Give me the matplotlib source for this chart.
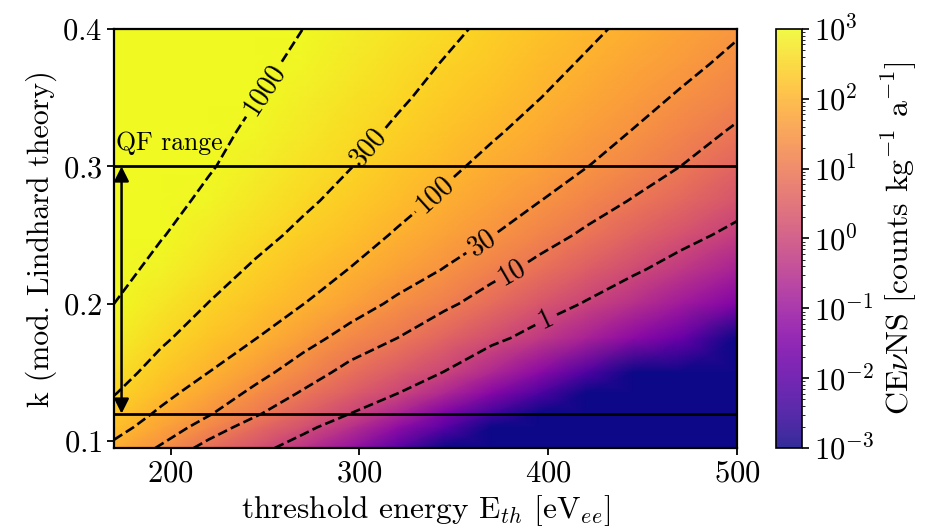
import numpy as np
import matplotlib
matplotlib.use("Agg")
import matplotlib.pyplot as plt
from matplotlib.colors import LogNorm

plt.rcParams["font.family"] = "serif"
plt.rcParams["font.serif"] = ["cmr10"]
plt.rcParams["mathtext.fontset"] = "cm"
plt.rcParams["axes.formatter.use_mathtext"] = True

# grid nodes: threshold energy [eV_ee] and k (mod. Lindhard)
e_th = np.array([170, 195, 220, 245, 270, 295, 320, 345, 370, 395, 420, 445, 470, 500])
k_vals = np.array([0.095, 0.11, 0.12, 0.135, 0.15, 0.175, 0.20, 0.225, 0.25, 0.275,
                   0.30, 0.325, 0.35, 0.375, 0.40])

# log10 of CEvNS rate, one row per k (-4 = no events)
log_rate = np.array([
    [1.88, 1.42, 0.81, 0.26, -0.38, -1.10, -2.00, -4.0, -4.0, -4.0, -4.0, -4.0, -4.0, -4.0],
    [2.18, 1.74, 1.28, 0.74, 0.20, -0.46, -1.20, -2.05, -4.0, -4.0, -4.0, -4.0, -4.0, -4.0],
    [2.32, 1.92, 1.52, 1.07, 0.54, 0.00, -0.70, -1.50, -2.40, -4.0, -4.0, -4.0, -4.0, -4.0],
    [2.50, 2.14, 1.77, 1.37, 0.95, 0.49, 0.02, -0.65, -1.35, -2.20, -4.0, -4.0, -4.0, -4.0],
    [2.64, 2.32, 2.00, 1.63, 1.25, 0.84, 0.41, -0.02, -0.65, -1.28, -2.20, -4.0, -4.0, -4.0],
    [2.84, 2.54, 2.27, 2.01, 1.65, 1.31, 1.00, 0.59, 0.18, -0.27, -0.77, -1.27, -1.80, -4.0],
    [3.00, 2.73, 2.47, 2.24, 2.01, 1.69, 1.39, 1.11, 0.75, 0.35, -0.05, -0.49, -0.93, -1.45],
    [3.13, 2.89, 2.65, 2.42, 2.20, 1.99, 1.72, 1.46, 1.17, 0.85, 0.48, 0.11, -0.29, -0.79],
    [3.23, 3.02, 2.81, 2.60, 2.39, 2.18, 1.96, 1.73, 1.49, 1.21, 0.92, 0.58, 0.24, -0.19],
    [3.31, 3.12, 2.93, 2.74, 2.55, 2.35, 2.14, 1.93, 1.71, 1.49, 1.23, 0.97, 0.66, 0.28],
    [3.39, 3.21, 3.03, 2.85, 2.67, 2.49, 2.29, 2.09, 1.89, 1.69, 1.49, 1.25, 1.00, 0.60],
    [3.44, 3.27, 3.10, 2.93, 2.77, 2.60, 2.42, 2.24, 2.05, 1.86, 1.66, 1.46, 1.24, 0.93],
    [3.50, 3.34, 3.17, 3.01, 2.85, 2.69, 2.53, 2.36, 2.19, 2.01, 1.82, 1.63, 1.43, 1.18],
    [3.54, 3.39, 3.23, 3.08, 2.93, 2.77, 2.62, 2.46, 2.30, 2.13, 1.96, 1.78, 1.60, 1.37],
    [3.58, 3.44, 3.29, 3.14, 3.00, 2.85, 2.70, 2.56, 2.40, 2.24, 2.08, 1.91, 1.74, 1.53],
])
rate = 10.0 ** log_rate

contour_levels = [1, 10, 30, 100, 300, 1000]
label_pos = [(399, 0.188), (381, 0.2225), (364, 0.2465), (341, 0.278), (305.6, 0.313), (248.5, 0.357)]
qf_bounds = [0.12, 0.3]

fig = plt.figure(figsize=(9.33, 5.32), dpi=100)
ax = fig.add_axes([0.1222, 0.1579, 0.6677, 0.7876])
cax = fig.add_axes([0.8317, 0.1579, 0.0279, 0.7876])

E, K = np.meshgrid(e_th, k_vals)
mesh = ax.pcolormesh(E, K, rate, cmap="plasma", norm=LogNorm(vmin=1e-3, vmax=1e3), shading="gouraud")

cs = ax.contour(E, K, log_rate, levels=np.log10(contour_levels), colors="k",
                linestyles="--", linewidths=1.9)
fmt = {lev: str(v) for lev, v in zip(cs.levels, contour_levels)}
ax.clabel(cs, fmt=fmt, fontsize=20, inline=True, manual=label_pos)

for kb in qf_bounds:
    ax.axhline(kb, color="k", lw=2)
ax.annotate("", xy=(174, qf_bounds[1]), xytext=(174, qf_bounds[0]),
            arrowprops=dict(arrowstyle="<|-|>", color="k", lw=1.8, mutation_scale=22,
                            shrinkA=0, shrinkB=0))
ax.text(171, 0.308, "QF range", fontsize=18.5, va="bottom", ha="left")

ax.set_xlim(170, 500)
ax.set_ylim(0.095, 0.4)
ax.set_xticks([200, 300, 400, 500])
ax.set_yticks([0.1, 0.2, 0.3, 0.4])
ax.set_xlabel(r"threshold energy $\mathrm{E}_{th}$ $[\mathrm{eV}_{ee}]$", fontsize=22.5)
ax.set_ylabel("k (mod. Lindhard theory)", fontsize=21.5)
ax.tick_params(labelsize=22, width=1.3, length=5)
for s in ax.spines.values():
    s.set_linewidth(1.6)

cbar = fig.colorbar(mesh, cax=cax)
cbar.solids.set_alpha(0.85)
cbar.set_label(r"CE$\nu$NS [counts $\mathrm{kg}^{-1}$ $\mathrm{a}^{-1}$]", fontsize=23)
cbar.ax.tick_params(labelsize=22, width=1.2, length=5)
cbar.outline.set_linewidth(1.2)

fig.savefig("out.png", dpi=100)
